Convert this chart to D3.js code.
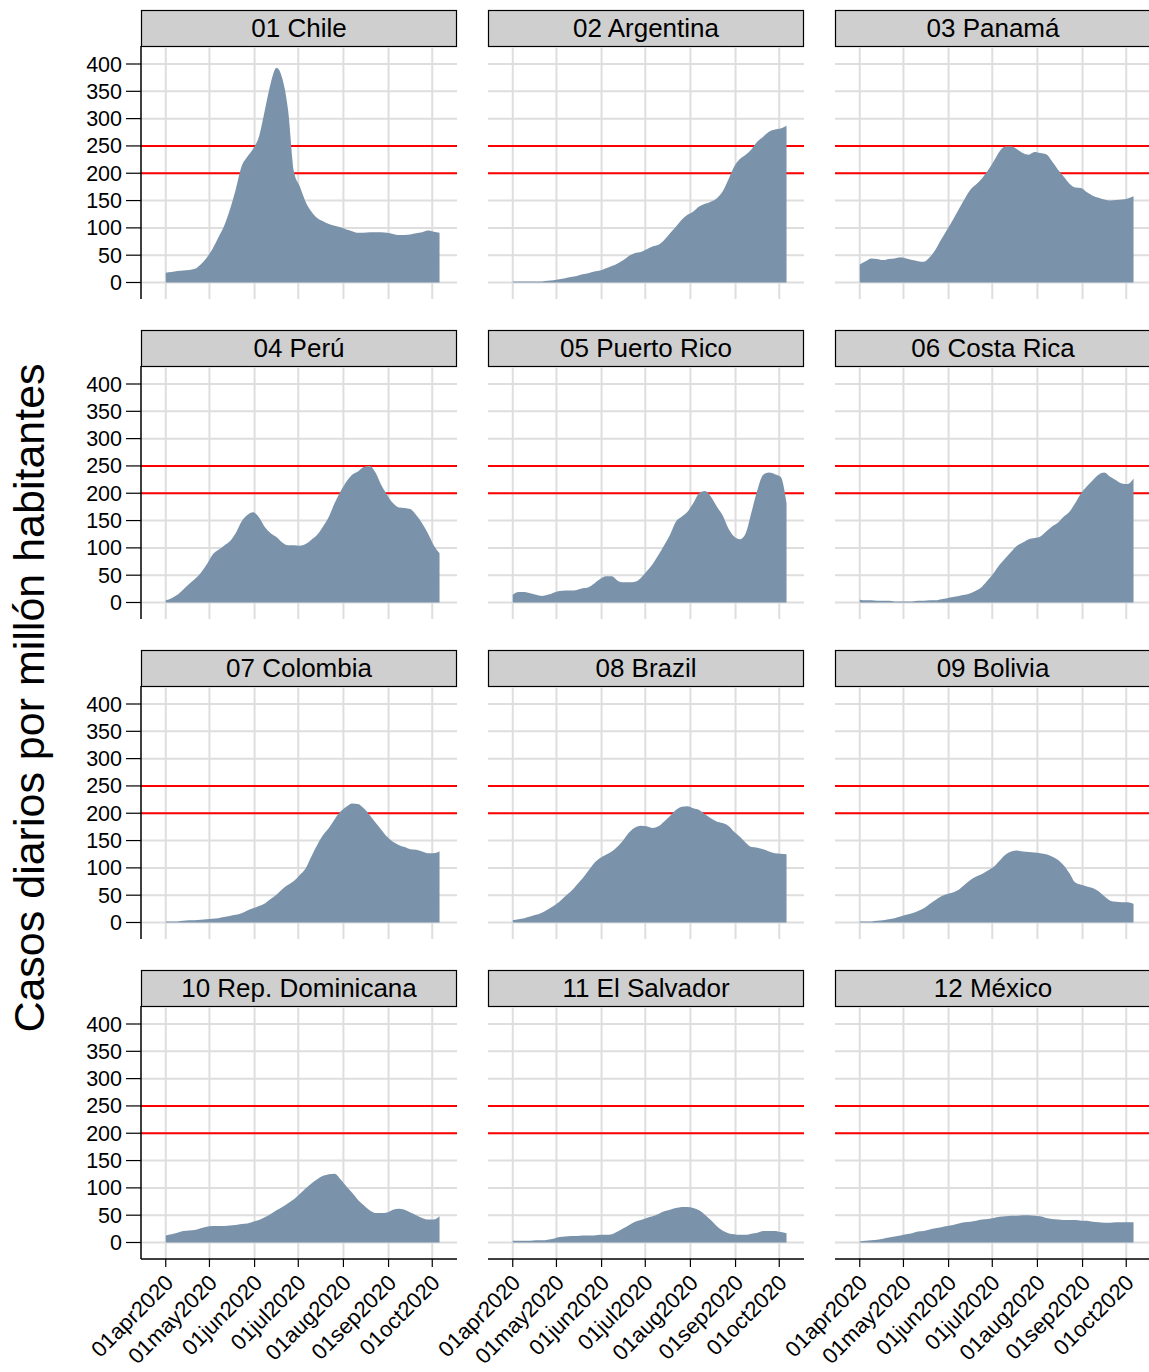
<!DOCTYPE html>
<html>
<head>
<meta charset="utf-8">
<script src="https://cdn.jsdelivr.net/npm/d3@7"></script>
<style>
  body { margin: 0; background: #fff; }
  svg { display: block; }
  text { font-family: "Liberation Sans", Arial, Helvetica, sans-serif; fill: #000; }
</style>
</head>
<body>
<div id="chart"></div>
<script>
// panel titles, in display order (4 rows x 3 cols)
const countries = ["01 Chile", "02 Argentina", "03 Panamá", "04 Perú", "05 Puerto Rico", "06 Costa Rica",
  "07 Colombia", "08 Brazil", "09 Bolivia", "10 Rep. Dominicana", "11 El Salvador", "12 México"];

// sample dates (every 4 days, last one = end of the last daily bar)
const dates = ["2020-04-01", "2020-04-05", "2020-04-09", "2020-04-13", "2020-04-17", "2020-04-21", "2020-04-25", "2020-04-29",
  "2020-05-03", "2020-05-07", "2020-05-11", "2020-05-15", "2020-05-19", "2020-05-23", "2020-05-27", "2020-05-31",
  "2020-06-04", "2020-06-08", "2020-06-12", "2020-06-16", "2020-06-20", "2020-06-24", "2020-06-28", "2020-07-02",
  "2020-07-06", "2020-07-10", "2020-07-14", "2020-07-18", "2020-07-22", "2020-07-26", "2020-07-30", "2020-08-03",
  "2020-08-07", "2020-08-11", "2020-08-15", "2020-08-19", "2020-08-23", "2020-08-27", "2020-08-31", "2020-09-04",
  "2020-09-08", "2020-09-12", "2020-09-16", "2020-09-20", "2020-09-24", "2020-09-28", "2020-10-02", "2020-10-06"];

// daily cases per million inhabitants
const chile = [18, 19, 21, 22, 23, 25, 33, 45, 61, 82, 103, 133, 170, 212, 230, 245, 267, 315, 364, 393,
  374, 316, 203, 176, 148, 130, 118, 112, 107, 104, 101, 97, 94, 91, 91, 92, 92, 92, 91, 89,
  87, 87, 88, 90, 92, 95, 93, 91];
const argentina = [2, 2, 2, 2, 2, 2, 3, 4, 6, 8, 10, 12, 15, 17, 20, 22, 26, 30, 35, 41,
  49, 54, 56, 61, 66, 69, 78, 90, 102, 115, 124, 130, 139, 144, 148, 154, 166, 188, 212, 226,
  234, 244, 258, 267, 276, 280, 282, 287];
const panama = [33, 39, 44, 43, 41, 43, 44, 46, 44, 41, 39, 38, 46, 60, 79, 97, 115, 134, 153, 170,
  180, 191, 205, 222, 240, 249, 249, 244, 237, 234, 239, 237, 235, 222, 207, 194, 181, 174, 173, 165,
  159, 155, 152, 150, 151, 152, 154, 158];
const peru = [4, 8, 14, 24, 34, 43, 54, 69, 87, 96, 104, 112, 127, 148, 160, 165, 156, 138, 127, 120,
  110, 105, 105, 104, 107, 115, 124, 139, 157, 182, 203, 221, 234, 240, 248, 250, 238, 215, 197, 182,
  174, 173, 171, 160, 145, 127, 105, 90];
const puertoRico = [14, 19, 19, 17, 14, 12, 14, 18, 21, 22, 22, 23, 26, 28, 35, 43, 48, 48, 40, 37,
  37, 38, 45, 57, 70, 87, 105, 124, 148, 157, 166, 182, 200, 204, 194, 176, 160, 136, 121, 116,
  127, 166, 206, 234, 238, 235, 230, 182];
const costaRica = [5, 4, 4, 3, 3, 3, 2, 2, 2, 2, 3, 3, 4, 4, 6, 8, 10, 12, 14, 17,
  22, 29, 41, 54, 69, 81, 93, 104, 110, 116, 118, 121, 130, 139, 146, 157, 166, 182, 200, 213,
  224, 234, 238, 230, 224, 218, 217, 227];
const colombia = [2, 2, 2, 3, 4, 4, 5, 6, 7, 8, 10, 12, 14, 17, 22, 26, 30, 35, 43, 51,
  61, 69, 76, 87, 99, 121, 142, 160, 173, 189, 203, 212, 218, 217, 209, 197, 183, 170, 157, 148,
  142, 138, 134, 133, 130, 127, 127, 130];
const brazil = [4, 6, 8, 11, 14, 18, 24, 30, 38, 48, 57, 69, 81, 95, 109, 118, 124, 130, 139, 151,
  165, 174, 177, 176, 173, 176, 185, 195, 206, 212, 213, 209, 206, 198, 191, 185, 182, 177, 166, 157,
  146, 138, 137, 134, 130, 127, 126, 125];
const bolivia = [2, 2, 2, 3, 4, 6, 8, 11, 14, 17, 21, 26, 34, 41, 48, 52, 55, 60, 69, 78,
  84, 89, 95, 102, 113, 124, 130, 132, 130, 129, 128, 127, 125, 121, 115, 105, 90, 73, 69, 66,
  63, 57, 48, 40, 38, 37, 37, 34];
const repDominicana = [13, 15, 18, 21, 22, 23, 26, 29, 30, 30, 30, 31, 32, 34, 35, 38, 41, 46, 52, 59,
  65, 72, 79, 89, 99, 108, 116, 122, 125, 126, 116, 103, 91, 78, 68, 59, 54, 54, 55, 60,
  62, 60, 55, 50, 45, 42, 42, 48];
const elSalvador = [3, 3, 3, 3, 4, 4, 5, 7, 10, 11, 12, 12, 13, 13, 13, 14, 14, 15, 20, 26,
  32, 38, 41, 45, 48, 52, 57, 60, 63, 65, 65, 63, 59, 51, 41, 30, 22, 17, 15, 14,
  14, 16, 18, 21, 21, 21, 19, 17];
const mexico = [2, 3, 4, 5, 7, 9, 11, 13, 15, 17, 20, 21, 24, 26, 28, 30, 32, 35, 37, 38,
  40, 42, 43, 45, 47, 48, 49, 49, 50, 50, 49, 48, 45, 43, 42, 41, 41, 41, 40, 40,
  38, 37, 36, 36, 37, 37, 37, 37];

const series = [chile, argentina, panama, peru, puertoRico, costaRica,
  colombia, brazil, bolivia, repDominicana, elSalvador, mexico];

const yTicks = [0, 50, 100, 150, 200, 250, 300, 350, 400];
const monthTicks = ["2020-04-01", "2020-05-01", "2020-06-01", "2020-07-01", "2020-08-01", "2020-09-01", "2020-10-01"];
const refLines = [200, 250];
const yTitle = "Casos diarios por millón habitantes";

// layout
const width = 1149, height = 1372;
const colX = [141, 488, 835];
const rowY = [10, 330, 650, 970];
const panelW = 316, stripH = 36, plotBottom = 289;

const parse = d3.timeParse("%Y-%m-%d");
const fmt = d3.timeFormat("%d%b%Y");

const x = d3.scaleTime()
  .domain([parse("2020-03-15"), parse("2020-10-18")])
  .range([0, panelW]);
const y = d3.scaleLinear().domain([0, 400]).range([272.5, 54]);

const area = d3.area()
  .x(d => x(d.date))
  .y0(y(0))
  .y1(d => y(d.value))
  .curve(d3.curveMonotoneX);

const svg = d3.select('#chart').append('svg')
  .attr('width', width)
  .attr('height', height);

svg.append('text')
  .attr('transform', 'translate(44,698) rotate(-90)')
  .attr('text-anchor', 'middle')
  .style('font-size', '43px')
  .text(yTitle);

countries.forEach((name, i) => {
  const col = i % 3, row = Math.floor(i / 3);
  const g = svg.append('g')
    .attr('transform', `translate(${colX[col]},${rowY[row]})`);

  // strip
  g.append('rect')
    .attr('x', 0.5).attr('y', 0.5)
    .attr('width', panelW - 1).attr('height', stripH)
    .attr('fill', '#cfcfcf')
    .attr('stroke', '#000')
    .attr('stroke-width', 1.2);
  g.append('text')
    .attr('x', panelW / 2).attr('y', 27)
    .attr('text-anchor', 'middle')
    .style('font-size', '26px')
    .text(name);

  // grid
  g.selectAll('.vgrid')
    .data(monthTicks)
    .enter().append('line')
    .attr('x1', d => x(parse(d))).attr('x2', d => x(parse(d)))
    .attr('y1', stripH + 1).attr('y2', plotBottom)
    .attr('stroke', '#dedede').attr('stroke-width', 2);
  g.selectAll('.hgrid')
    .data(yTicks)
    .enter().append('line')
    .attr('x1', 0).attr('x2', panelW)
    .attr('y1', d => y(d)).attr('y2', d => y(d))
    .attr('stroke', '#dedede').attr('stroke-width', 2);

  // reference lines
  g.selectAll('.ref')
    .data(refLines)
    .enter().append('line')
    .attr('x1', 0).attr('x2', panelW)
    .attr('y1', d => y(d)).attr('y2', d => y(d))
    .attr('stroke', '#ff0000').attr('stroke-width', 2);

  // cases
  const pts = dates.map((d, k) => ({ date: parse(d), value: series[i][k] }));
  g.append('path')
    .datum(pts)
    .attr('d', area)
    .attr('fill', '#7a93aa');

  // y axis on first column
  if (col === 0) {
    g.append('line')
      .attr('x1', 0).attr('x2', 0)
      .attr('y1', stripH).attr('y2', plotBottom)
      .attr('stroke', '#000').attr('stroke-width', 1.5);
    g.selectAll('.ytick')
      .data(yTicks)
      .enter().append('line')
      .attr('x1', -15).attr('x2', 0)
      .attr('y1', d => y(d)).attr('y2', d => y(d))
      .attr('stroke', '#000').attr('stroke-width', 1.2);
    g.selectAll('.ylab')
      .data(yTicks)
      .enter().append('text')
      .attr('x', -19).attr('y', d => y(d))
      .attr('dy', '0.35em')
      .attr('text-anchor', 'end')
      .style('font-size', '21.5px')
      .text(d => d);
  }

  // x axis on last row
  if (row === 3) {
    g.append('line')
      .attr('x1', 0).attr('x2', panelW)
      .attr('y1', plotBottom).attr('y2', plotBottom)
      .attr('stroke', '#000').attr('stroke-width', 1.5);
    g.selectAll('.xtick')
      .data(monthTicks)
      .enter().append('line')
      .attr('x1', d => x(parse(d))).attr('x2', d => x(parse(d)))
      .attr('y1', plotBottom).attr('y2', plotBottom + 8)
      .attr('stroke', '#000').attr('stroke-width', 1.2);
    g.selectAll('.xlab')
      .data(monthTicks)
      .enter().append('text')
      .attr('transform', d => `translate(${x(parse(d)) + 9},${plotBottom + 25}) rotate(-45)`)
      .attr('text-anchor', 'end')
      .style('font-size', '22px')
      .text(d => fmt(parse(d)).toLowerCase());
  }
});
</script>
</body>
</html>
